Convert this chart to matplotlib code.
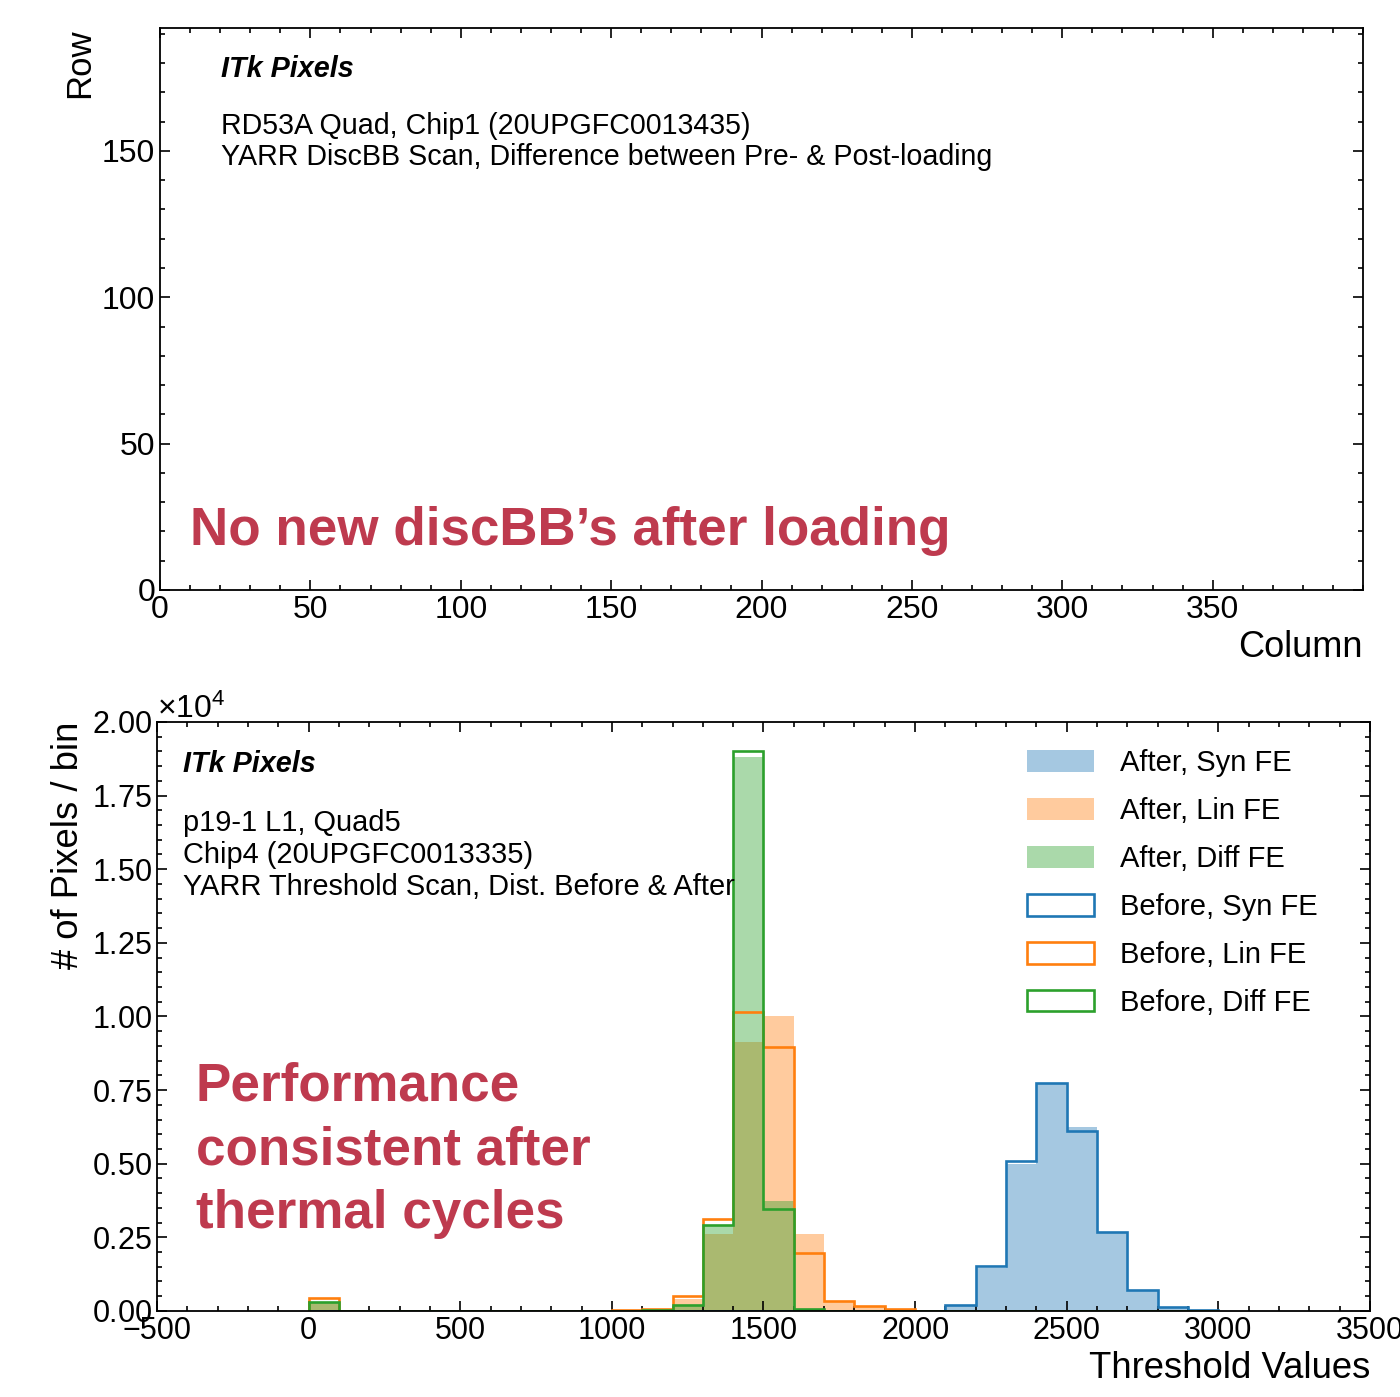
import numpy as np
import matplotlib
matplotlib.use('Agg')
import matplotlib.pyplot as plt
from matplotlib.ticker import MultipleLocator

plt.rcParams['font.family'] = ['Liberation Sans', 'DejaVu Sans']
plt.rcParams['mathtext.fontset'] = 'custom'
plt.rcParams['mathtext.rm'] = 'Liberation Sans'
plt.rcParams['mathtext.it'] = 'Liberation Sans:italic'
plt.rcParams['mathtext.bf'] = 'Liberation Sans:bold'

RED = '#BE3A4E'

# --- top panel: discBB difference map (400 columns x 192 rows, all zero) ---
n_cols, n_rows = 400, 192
disc_diff = np.zeros((n_rows, n_cols))

# --- bottom panel: threshold distributions, bins of 100 from 0 to 3000 ---
bin_edges = np.arange(0, 3100, 100)
#            0    100  200  300  400  500  600  700  800  900
#            1000 1100 1200 1300 1400  1500  1600 1700 1800 1900
#            2000 2100 2200 2300 2400  2500  2600 2700 2800 2900
syn_before = [0, 0, 0, 0, 0, 0, 0, 0, 0, 0,
              0, 0, 0, 0, 0, 0, 0, 0, 0, 0,
              10, 190, 1530, 5080, 7750, 6110, 2670, 700, 136, 40]
syn_after = [0, 0, 0, 0, 0, 0, 0, 0, 0, 0,
             0, 0, 0, 0, 0, 0, 0, 0, 0, 0,
             10, 180, 1470, 4980, 7720, 6250, 2650, 690, 130, 40]
lin_before = [450, 5, 5, 5, 5, 5, 5, 5, 5, 10,
              20, 60, 520, 3130, 10150, 8960, 1960, 330, 160, 50,
              10, 0, 0, 0, 0, 0, 0, 0, 0, 0]
lin_after = [260, 5, 5, 5, 5, 5, 5, 5, 5, 10,
             15, 50, 390, 2600, 9130, 10000, 2610, 350, 150, 40,
             5, 0, 0, 0, 0, 0, 0, 0, 0, 0]
diff_before = [300, 0, 0, 0, 0, 0, 0, 0, 0, 5,
               10, 30, 200, 2930, 19000, 3460, 60, 10, 0, 0,
               0, 0, 0, 0, 0, 0, 0, 0, 0, 0]
diff_after = [260, 0, 0, 0, 0, 0, 0, 0, 0, 5,
              10, 30, 180, 2870, 18800, 3740, 60, 10, 0, 0,
              0, 0, 0, 0, 0, 0, 0, 0, 0, 0]

fe_names = ['Syn', 'Lin', 'Diff']
fe_colors = ['tab:blue', 'tab:orange', 'tab:green']
after = [syn_after, lin_after, diff_after]
before = [syn_before, lin_before, diff_before]


def style_axes(ax):
    ax.tick_params(which='both', direction='in', top=True, right=True,
                   labelsize=22, width=1.2)
    ax.tick_params(which='major', length=7)
    ax.tick_params(which='minor', length=3.5)
    for s in ax.spines.values():
        s.set_linewidth(1.3)


fig = plt.figure(figsize=(14, 13.97), dpi=100)

# top panel
ax1 = fig.add_axes([0.1143, 0.5777, 0.8593, 0.4023])
ax1.pcolormesh(np.arange(n_cols + 1), np.arange(n_rows + 1),
               np.ma.masked_equal(disc_diff, 0), cmap='viridis')
ax1.set_xlim(0, n_cols)
ax1.set_ylim(0, n_rows)
ax1.set_xticks(np.arange(0, 400, 50))
ax1.set_yticks(np.arange(0, 200, 50))
ax1.xaxis.set_minor_locator(MultipleLocator(10))
ax1.yaxis.set_minor_locator(MultipleLocator(10))
style_axes(ax1)
ax1.tick_params(axis='both', labelsize=23)
ax1.set_xlabel('Column', fontsize=26, loc='right')
ax1.set_ylabel('Row', fontsize=25, loc='top')

ax1.text(0.0507, 0.913, 'ITk Pixels', transform=ax1.transAxes, fontsize=20.7,
         fontweight='bold', fontstyle='italic', va='baseline')
ax1.text(0.0507, 0.811, 'RD53A Quad, Chip1 (20UPGFC0013435)',
         transform=ax1.transAxes, fontsize=20.6, va='baseline')
ax1.text(0.0507, 0.756, 'YARR DiscBB Scan, Difference between Pre- & Post-loading',
         transform=ax1.transAxes, fontsize=20.6, va='baseline')
ax1.text(0.025, 0.080, 'No new discBB\u2019s after loading', transform=ax1.transAxes,
         fontsize=38.2, fontweight='bold', color=RED, va='baseline')

# bottom panel
ax2 = fig.add_axes([0.1121, 0.0616, 0.8665, 0.4216])
centers = bin_edges[:-1] + 50
for name, col, w in zip(fe_names, fe_colors, after):
    ax2.hist(centers, bins=bin_edges, weights=w, histtype='stepfilled',
             color=col, alpha=0.4, label=f'After, {name} FE')
for name, col, w in zip(fe_names, fe_colors, before):
    ax2.hist(centers, bins=bin_edges, weights=w, histtype='step',
             color=col, linewidth=1.9, label=f'Before, {name} FE')

ax2.set_xlim(-500, 3500)
ax2.set_ylim(0, 20000)
ax2.set_xticks(np.arange(-500, 3501, 500))
ax2.set_yticks(np.arange(0, 20001, 2500))
ax2.xaxis.set_minor_locator(MultipleLocator(100))
ax2.yaxis.set_minor_locator(MultipleLocator(500))
ax2.ticklabel_format(axis='y', style='sci', scilimits=(0, 0), useMathText=True)
ax2.yaxis.get_offset_text().set_fontsize(23)
style_axes(ax2)
ax2.set_xlabel('Threshold Values', fontsize=26.3, loc='right')
ax2.set_ylabel('# of Pixels / bin', fontsize=26.3, loc='top')

ax2.text(0.0214, 0.915, 'ITk Pixels', transform=ax2.transAxes, fontsize=20.7,
         fontweight='bold', fontstyle='italic', va='baseline')
for y, line in zip([0.815, 0.761, 0.706],
                   ['p19-1 L1, Quad5', 'Chip4 (20UPGFC0013335)',
                    'YARR Threshold Scan, Dist. Before & After']):
    ax2.text(0.0214, y, line, transform=ax2.transAxes, fontsize=20.9, va='baseline')
for y, line in zip([0.358, 0.248, 0.141],
                   ['Performance', 'consistent after', 'thermal cycles']):
    ax2.text(0.032, y, line, transform=ax2.transAxes, fontsize=38.2,
             fontweight='bold', color=RED, va='baseline')

ax2.legend(loc='upper left', bbox_to_anchor=(0.700, 0.988), frameon=False,
           fontsize=21, handlelength=2.3, handleheight=0.78,
           labelspacing=0.68, handletextpad=0.92, borderpad=0.2)

fig.savefig('out.png', dpi=100)
